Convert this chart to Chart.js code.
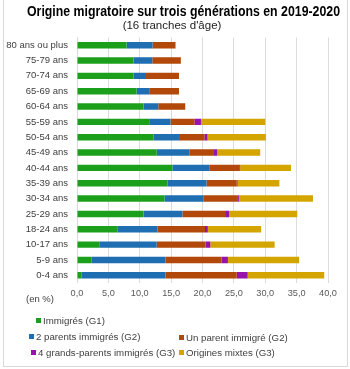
<!doctype html>
<html lang="fr">
  <head>
    <meta charset="UTF-8" />
    <title>Origine migratoire sur trois générations</title>
    <script src="https://cdn.jsdelivr.net/npm/chart.js"></script>
    <style>
      body { margin: 0; background: #fff; }
      #wrap { position: relative; width: 350px; height: 369px; }
      #frame {
        position: absolute; left: 3px; top: -1px; width: 343px; height: 366px;
        border: 1px solid #d9d9d9;
      }
      .leg {
        position: absolute; font: 9.7px "Liberation Sans", Arial, sans-serif;
        color: #404040; white-space: nowrap; line-height: 12px;
      }
      .leg i {
        display: inline-block; width: 5px; height: 5px; margin-right: 2px;
        vertical-align: 1px;
      }
      #unit {
        position: absolute; left: 26px; top: 293px;
        font: 9.5px "Liberation Sans", Arial, sans-serif; color: #404040;
      }
    </style>
  </head>
  <body>
    <div id="wrap">
      <div id="frame"></div>
      <canvas id="chart" width="350" height="369"></canvas>
      <span id="unit">(en %)</span>
      <div id="legend"></div>
    </div>

    <script>
      const titleText = "Origine migratoire sur trois générations en 2019-2020";
      const subtitleText = "(16 tranches d'âge)";
      const categories = [
        "80 ans ou plus", "75-79 ans", "70-74 ans", "65-69 ans",
        "60-64 ans", "55-59 ans", "50-54 ans", "45-49 ans",
        "40-44 ans", "35-39 ans", "30-34 ans", "25-29 ans",
        "18-24 ans", "10-17 ans", "5-9 ans", "0-4 ans",
      ];
      const immigres = [7.9, 9.0, 9.0, 9.5, 10.6, 11.5, 12.2, 12.7, 15.2, 14.4, 13.95, 10.6, 6.5, 3.55, 2.35, 0.75];
      const deuxParents = [4.15, 3.0, 2.0, 2.0, 2.35, 3.4, 4.05, 5.2, 5.95, 6.25, 6.25, 6.2, 6.35, 9.15, 11.75, 13.35];
      const unParent = [3.65, 4.55, 5.25, 4.75, 4.3, 3.8, 4.05, 3.8, 4.7, 4.8, 5.45, 6.8, 7.55, 7.8, 8.95, 11.35];
      const quatreGP = [0, 0, 0, 0, 0, 1.05, 0.5, 0.65, 0.15, 0.15, 0.15, 0.65, 0.45, 0.75, 1.0, 1.75];
      const mixtes = [0, 0, 0, 0, 0, 10.25, 9.3, 6.85, 8.1, 6.65, 11.8, 10.85, 8.5, 10.25, 11.35, 12.2];
      const xTickLabels = ["0,0", "5,0", "10,0", "15,0", "20,0", "25,0", "30,0", "35,0", "40,0"];

      const series = [
        { label: "Immigrés (G1)", data: immigres, color: "rgb(28,160,28)" },
        { label: "2 parents immigrés (G2)", data: deuxParents, color: "rgb(31,110,178)" },
        { label: "Un parent immigré (G2)", data: unParent, color: "rgb(178,72,10)" },
        { label: "4 grands-parents immigrés (G3)", data: quatreGP, color: "rgb(150,18,170)" },
        { label: "Origines mixtes (G3)", data: mixtes, color: "rgb(212,164,0)" },
      ];

      // legend placed like the original (Excel style)
      const legendPos = [
        [36, 315], [29, 331], [179, 332], [31, 347], [179, 347],
      ];
      const legend = document.getElementById("legend");
      series.forEach((s, i) => {
        const d = document.createElement("div");
        d.className = "leg";
        d.style.left = legendPos[i][0] + "px";
        d.style.top = legendPos[i][1] + "px";
        d.innerHTML = `<i style="background:${s.color}"></i>${s.label}`;
        legend.appendChild(d);
      });

      // title drawn by hand: narrow bold text, not centred on the canvas
      const titlePlugin = {
        id: "narrowTitle",
        afterDraw(chart) {
          const c = chart.ctx;
          c.save();
          c.textAlign = "center";
          c.textBaseline = "middle";
          c.fillStyle = "#000";
          c.font = "bold 15.5px 'Liberation Sans'";
          c.fillText(titleText, 183.5, 11.5, 313);
          c.fillStyle = "#222";
          c.font = "11.5px 'Liberation Sans'";
          c.fillText(subtitleText, 172, 26);
          c.restore();
        },
      };

      const ctx = document.getElementById("chart").getContext("2d");
      new Chart(ctx, {
        type: "bar",
        data: {
          labels: categories,
          datasets: series.map((s) => ({
            label: s.label,
            data: s.data,
            backgroundColor: s.color,
            borderWidth: 0,
            categoryPercentage: 1,
            barPercentage: 0.42,
          })),
        },
        options: {
          indexAxis: "y",
          responsive: false,
          animation: false,
          layout: { padding: { left: 0, right: 22, top: 37.5, bottom: 65 } },
          scales: {
            x: {
              stacked: true,
              min: 0,
              max: 40,
              ticks: {
                stepSize: 5,
                padding: 5,
                color: "#595959",
                font: { family: "Liberation Sans", size: 9.2 },
                callback: (v, i) => xTickLabels[i],
              },
              grid: { color: "#dcdcdc", drawTicks: false },
              border: { display: false },
            },
            y: {
              stacked: true,
              afterFit: (s) => { s.width = 77; },
              ticks: {
                padding: 9,
                color: "#404040",
                font: { family: "Liberation Sans", size: 9.5 },
              },
              grid: { display: false, drawTicks: false },
              border: { color: "#d9d9d9" },
            },
          },
          plugins: {
            legend: { display: false },
            tooltip: { enabled: false },
          },
        },
        plugins: [titlePlugin],
      });
    </script>
  </body>
</html>
